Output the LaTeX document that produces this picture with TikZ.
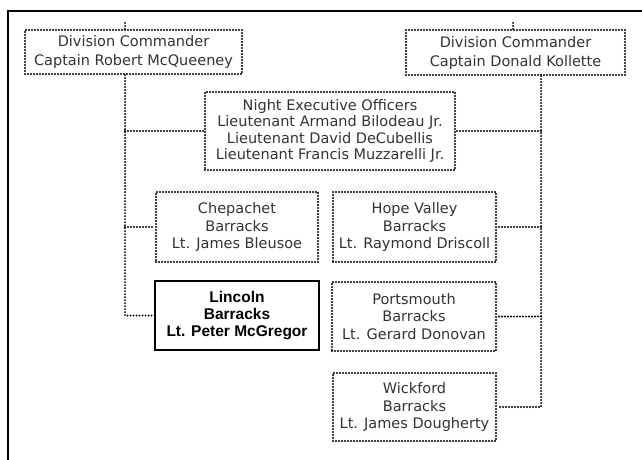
\documentclass[tikz,border=0pt]{standalone}
\usepackage{fontspec}
\setmainfont{Liberation Sans}
\newfontfamily\dotfont{DejaVu Sans}
\begin{document}
\begin{tikzpicture}[x=1pt,y=-1pt,
  dotline/.style={line width=2.1pt, line cap=round, dash pattern=on 0pt off 3pt, black},
  unitbox/.style={draw, dotline, inner sep=0pt, align=center, text=black!80,
    font=\dotfont\fontsize{14.5}{17.5}\selectfont},
  mainbox/.style={draw, line width=1.5pt, inner sep=0pt, align=center,
    font=\bfseries\fontsize{15.5}{17}\selectfont}]
\useasboundingbox (0,0) rectangle (642,460);
\clip (0,0) rectangle (642,460);
\fill[white] (0,0) rectangle (642,460);

% page frame
\draw[line width=1.8pt] (8,470) -- (8,11) -- (650,11);

% command boxes
\node[unitbox, minimum width=217pt, minimum height=44pt,
  font=\dotfont\fontsize{14.5}{19}\selectfont] (dl) at (133.5,52)
  {Division Commander\\Captain Robert McQueeney};
\node[unitbox, minimum width=219pt, minimum height=45pt,
  font=\dotfont\fontsize{14.5}{19}\selectfont] (dr) at (515.5,52.5)
  {Division Commander\\Captain Donald Kollette};
\node[unitbox, minimum width=250pt, minimum height=78pt,
  font=\dotfont\fontsize{14.5}{16.5}\selectfont] (night) at (330,131)
  {Night Executive Officers\\Lieutenant Armand Bilodeau Jr.\\Lieutenant David DeCubellis\\Lieutenant Francis Muzzarelli Jr.};

% barracks
\node[unitbox, minimum width=162pt, minimum height=70pt] (chep) at (237,227)
  {Chepachet\\Barracks\\Lt. James Bleusoe};
\node[unitbox, minimum width=163pt, minimum height=70pt] (hope) at (414.5,227)
  {Hope Valley\\Barracks\\Lt. Raymond Driscoll};
\node[mainbox, minimum width=164pt, minimum height=69pt] (lin) at (237,315.5)
  {Lincoln\\Barracks\\Lt. Peter McGregor};
\node[unitbox, minimum width=164pt, minimum height=69pt] (ports) at (414,316.5)
  {Portsmouth\\Barracks\\Lt. Gerard Donovan};
\node[unitbox, minimum width=163pt, minimum height=68pt] (wick) at (414.5,407)
  {Wickford\\Barracks\\Lt. James Dougherty};

% trunk lines
\coordinate (ltrunk) at (125,0);
\coordinate (rtrunk) at (541,0);
\coordinate (rtick) at (513,0);

\draw[dotline] (dl.north -| ltrunk) -- ++(0,-9);
\draw[dotline] (dr.north -| rtick) -- ++(0,-9);

\draw[dotline] (dl.south -| ltrunk) |- (lin.west);
\draw[dotline] (ltrunk |- night.west) -- (night.west);
\draw[dotline] (ltrunk |- chep.west) -- (chep.west);

\draw[dotline] (dr.south -| rtrunk) |- (wick.east);
\draw[dotline] (rtrunk |- night.east) -- (night.east);
\draw[dotline] (rtrunk |- hope.east) -- (hope.east);
\draw[dotline] (rtrunk |- ports.east) -- (ports.east);
\end{tikzpicture}
\end{document}
